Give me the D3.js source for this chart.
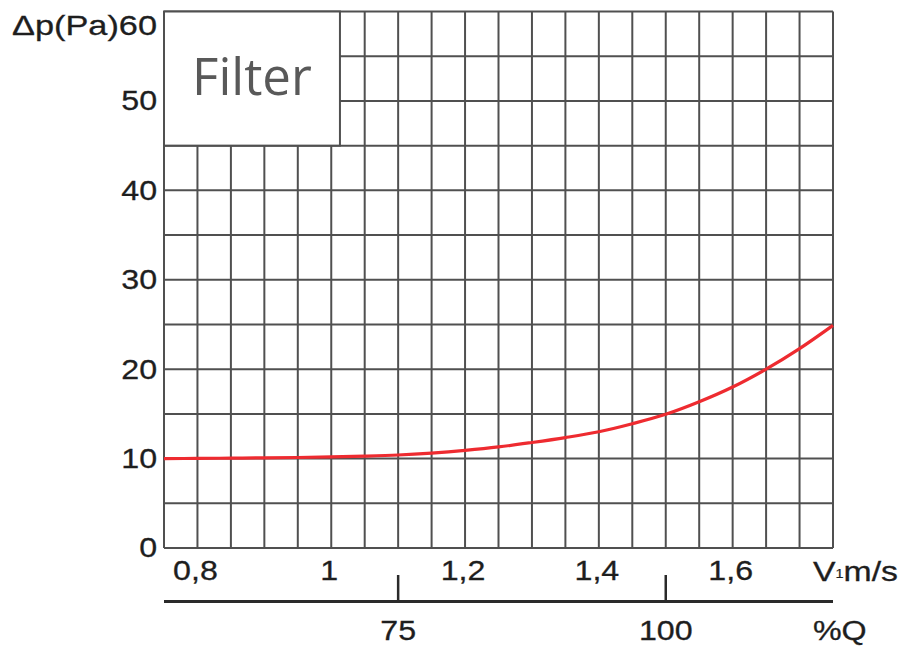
<!DOCTYPE html>
<html>
<head>
<meta charset="utf-8">
<script src="https://cdn.jsdelivr.net/npm/d3@7"></script>
<style>
  body { margin: 0; background: #fff; }
  svg text { font-family: "Liberation Sans", Arial, sans-serif; fill: #1e1e1e; stroke: #1e1e1e; stroke-width: 0.3px; }
</style>
</head>
<body>
<svg id="chart"></svg>
<script>
// values
const velocity = [0.75, 0.8, 0.85, 0.9, 0.95, 1.0, 1.05, 1.1, 1.15, 1.2, 1.25, 1.3, 1.35, 1.4, 1.45, 1.5, 1.55, 1.6, 1.65, 1.7, 1.75];
const pressure = [10.0, 10.02, 10.05, 10.08, 10.12, 10.18, 10.27, 10.4, 10.62, 10.92, 11.3, 11.8, 12.35, 13.0, 13.9, 14.95, 16.35, 18.0, 20.0, 22.3, 24.9];
const vTicks = [0.8, 1.0, 1.2, 1.4, 1.6];
const pTicks = [0, 10, 20, 30, 40, 50];
const pTop = 60;
const qTicks = [75, 100];
const qAtVelocity = [1.1, 1.5];
const title = "Filter";

const width = 904;
const height = 648;
const margin = { top: 11.5, right: 71, bottom: 100, left: 164 };
const stretch = "scale(1.15,1)";
const fontSize = "28px";

const svg = d3.select("#chart").attr("width", width).attr("height", height);

const x = d3.scaleLinear().domain([0.75, 1.75]).range([margin.left, width - margin.right]);
const y = d3.scaleLinear().domain([0, pTop]).range([height - margin.bottom, margin.top]);
const q = d3.scaleLinear().domain(qTicks).range(qAtVelocity.map(x));

// grid
const grid = svg.append("g").attr("stroke", "#505050").attr("stroke-width", 2);

grid.selectAll(".v")
  .data(d3.range(0, 21).map((i) => 0.75 + i * 0.05))
  .join("line")
  .attr("x1", (d) => x(d)).attr("x2", (d) => x(d))
  .attr("y1", y(0)).attr("y2", y(pTop));

grid.selectAll(".h")
  .data(d3.range(0, 13).map((i) => i * 5))
  .join("line")
  .attr("x1", x(0.75)).attr("x2", x(1.75))
  .attr("y1", (d) => y(d)).attr("y2", (d) => y(d));

// title box covering the grid in the corner
svg.append("rect")
  .attr("x", x(0.75)).attr("y", y(pTop))
  .attr("width", x(1.013) - x(0.75)).attr("height", y(45) - y(pTop))
  .attr("fill", "#fff").attr("stroke", "#505050").attr("stroke-width", 2);

svg.append("text")
  .attr("x", (x(0.75) + x(1.013)) / 2).attr("y", 95)
  .attr("text-anchor", "middle")
  .style("font-family", "'Open Sans', sans-serif")
  .style("font-size", "51px")
  .style("fill", "#595959")
  .style("stroke", "none")
  .text(title);

// curve
const line = d3.line()
  .x((d, i) => x(velocity[i]))
  .y((d) => y(d))
  .curve(d3.curveCatmullRom);

svg.append("path")
  .datum(pressure)
  .attr("fill", "none")
  .attr("stroke", "#ee2b30")
  .attr("stroke-width", 3.2)
  .attr("d", line);

// y labels
svg.append("g")
  .attr("transform", `translate(${x(0.75)},0)`)
  .call(d3.axisLeft(y).tickValues(pTicks).tickSize(0).tickPadding(6))
  .call((g) => g.select(".domain").remove())
  .selectAll("text")
  .attr("font-family", null)
  .attr("fill", null)
  .style("font-size", fontSize)
  .attr("transform", stretch);

svg.append("text")
  .attr("x", 12).attr("y", 25).attr("dy", "0.36em")
  .attr("textLength", 145).attr("lengthAdjust", "spacingAndGlyphs")
  .style("font-size", fontSize)
  .text(`Δp(Pa)${pTop}`);

// velocity labels
svg.append("g")
  .selectAll("text")
  .data(vTicks)
  .join("text")
  .attr("transform", (d) => `translate(${x(d) - 2},580) ${stretch}`)
  .attr("text-anchor", "middle")
  .style("font-size", fontSize)
  .text((d) => String(d).replace(".", ","));

const vUnit = svg.append("text")
  .attr("x", 813).attr("y", 581)
  .attr("textLength", 85).attr("lengthAdjust", "spacingAndGlyphs")
  .style("font-size", fontSize);
vUnit.append("tspan").text("V");
vUnit.append("tspan").style("font-size", "12px").style("stroke-width", "0.2px").attr("dy", -3).text("1");
vUnit.append("tspan").attr("dy", 3).text("m/s");

// %Q axis
const qAxis = svg.append("g");
qAxis.append("line")
  .attr("x1", x(0.75)).attr("x2", x(1.75))
  .attr("y1", 601.5).attr("y2", 601.5)
  .attr("stroke", "#2a2a2a").attr("stroke-width", 2.8);

qAxis.selectAll(".tick")
  .data(qTicks)
  .join("line")
  .attr("x1", (d) => q(d)).attr("x2", (d) => q(d))
  .attr("y1", 575).attr("y2", 601.5)
  .attr("stroke", "#2a2a2a").attr("stroke-width", 2.5);

qAxis.selectAll("text")
  .data(qTicks)
  .join("text")
  .attr("transform", (d) => `translate(${q(d)},640) ${stretch}`)
  .attr("text-anchor", "middle")
  .style("font-size", fontSize)
  .text((d) => d);

svg.append("text")
  .attr("transform", `translate(813,640) ${stretch}`)
  .style("font-size", fontSize)
  .text("%Q");
</script>
</body>
</html>
